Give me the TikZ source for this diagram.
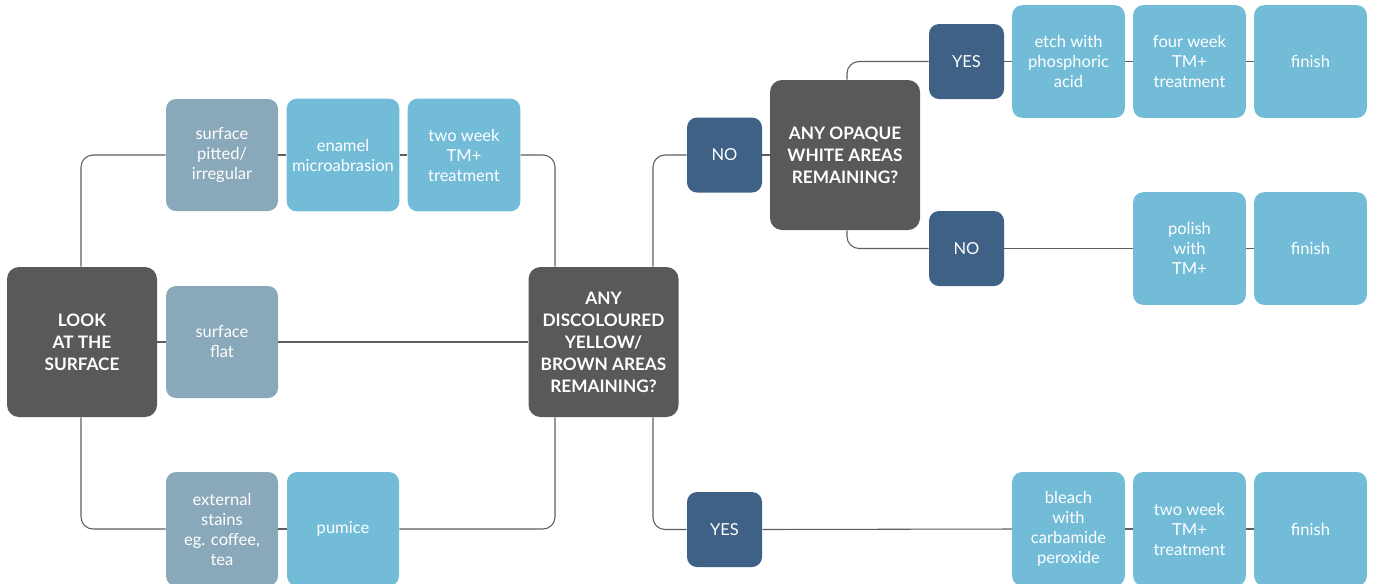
\documentclass[tikz,border=0pt]{standalone}
\usepackage{fontspec}
\setmainfont{Lato}
\usetikzlibrary{positioning}
\definecolor{dgray}{HTML}{58595B}
\definecolor{steel}{HTML}{89A8BA}
\definecolor{lblue}{HTML}{72BCD8}
\definecolor{dblue}{HTML}{3F6186}
\definecolor{lgray}{HTML}{5E5E60}
\tikzset{
  base/.style={text=white, align=center, inner sep=0pt, font=\fontsize{12.4}{15}\selectfont},
  question/.style={base, fill=dgray, rounded corners=9pt, minimum width=112.5pt, minimum height=112.5pt, font=\bfseries\fontsize{12.9}{16.5}\selectfont},
  cond/.style={base, fill=steel, rounded corners=7.5pt, minimum width=84pt, minimum height=84pt},
  act/.style={base, fill=lblue, rounded corners=7.5pt, minimum width=84.5pt, minimum height=84.5pt},
  ans/.style={base, fill=dblue, rounded corners=7.5pt, minimum width=56.25pt, minimum height=56.25pt},
  conn/.style={draw=lgray, line width=0.8pt, rounded corners=9pt}
}
\begin{document}
\begin{tikzpicture}[x=0.75pt, y=-0.75pt]
\useasboundingbox (0,0) rectangle (1373,583);
\coordinate (c1) at (555,155);
\coordinate (c2) at (555,529);
\coordinate (d1) at (653,155);
\coordinate (d2) at (653,529);
\coordinate (l1) at (81,155);
\coordinate (l2) at (81,529);
\coordinate (o1) at (847,61);
\coordinate (o2) at (847,249);
% nodes
\node[question] (look) at (82,342) {LOOK\\AT THE\\SURFACE};
\node[cond] (pit) at (222,155) {surface\\pitted/\\irregular};
\node[act] (ena) at (343,155) {enamel\\microabrasion};
\node[act] (tw1) at (464,155) {two week\\TM+\\treatment};
\node[cond] (flat) at (222,342) {surface\\flat};
\node[cond, minimum height=85.5pt] (ext) at (222,529) {external\\stains\\eg. coffee,\\tea};
\node[act, minimum width=84pt, minimum height=85.5pt] (pum) at (343,529) {pumice};
\node[question] (disc) at (603.5,342) {ANY\\DISCOLOURED\\YELLOW/\\BROWN AREAS\\REMAINING?};
\node[ans] (no1) at (724.5,155) {NO};
\node[question] (opq) at (845,155) {ANY OPAQUE\\WHITE AREAS\\REMAINING?};
\node[ans] (yes1) at (966.5,61.5) {YES};
\node[ans] (no2) at (966.5,248.5) {NO};
\node[act] (etch) at (1068.5,61.5) {etch with\\phosphoric\\acid};
\node[act] (fw) at (1189.5,61.5) {four week\\TM+\\treatment};
\node[act] (fin1) at (1310.5,61.5) {finish};
\node[act] (pol) at (1189.5,248.5) {polish\\with\\TM+};
\node[act] (fin2) at (1310.5,248.5) {finish};
\node[ans] (yes2) at (724.5,529.5) {YES};
\node[act, minimum height=85.5pt] (ble) at (1068.5,529) {bleach\\with\\carbamide\\peroxide};
\node[act, minimum height=85.5pt] (tw2) at (1189.5,529) {two week\\TM+\\treatment};
\node[act, minimum height=85.5pt] (fin3) at (1310.5,529) {finish};
% connectors
\draw[conn] (look.north -| l1) |- (pit.west);
\draw[conn] (look.south -| l2) |- (ext.west);
\draw[conn] (look.east) -- (flat.west);
\draw[conn] (pit.east) -- (ena.west);
\draw[conn] (ena.east) -- (tw1.west);
\draw[conn] (tw1.east) -| (disc.north -| c1);
\draw[conn] (flat.east) -- (disc.west);
\draw[conn] (ext.east) -- (pum.west);
\draw[conn] (pum.east) -| (disc.south -| c2);
\draw[conn] (disc.north -| d1) |- (no1.west);
\draw[conn] (disc.south -| d2) |- (yes2.west);
\draw[conn] (no1.east) -- (opq.west);
\draw[conn] (opq.north -| o1) |- (yes1.west);
\draw[conn] (opq.south -| o2) |- (no2.west);
\draw[conn] (yes1.east) -- (etch.west);
\draw[conn] (etch.east) -- (fw.west);
\draw[conn] (fw.east) -- (fin1.west);
\draw[conn] (no2.east) -- (pol.west);
\draw[conn] (pol.east) -- (fin2.west);
\draw[conn] (yes2.east) -- (ble.west);
\draw[conn] (ble.east) -- (tw2.west);
\draw[conn] (tw2.east) -- (fin3.west);
\end{tikzpicture}
\end{document}
